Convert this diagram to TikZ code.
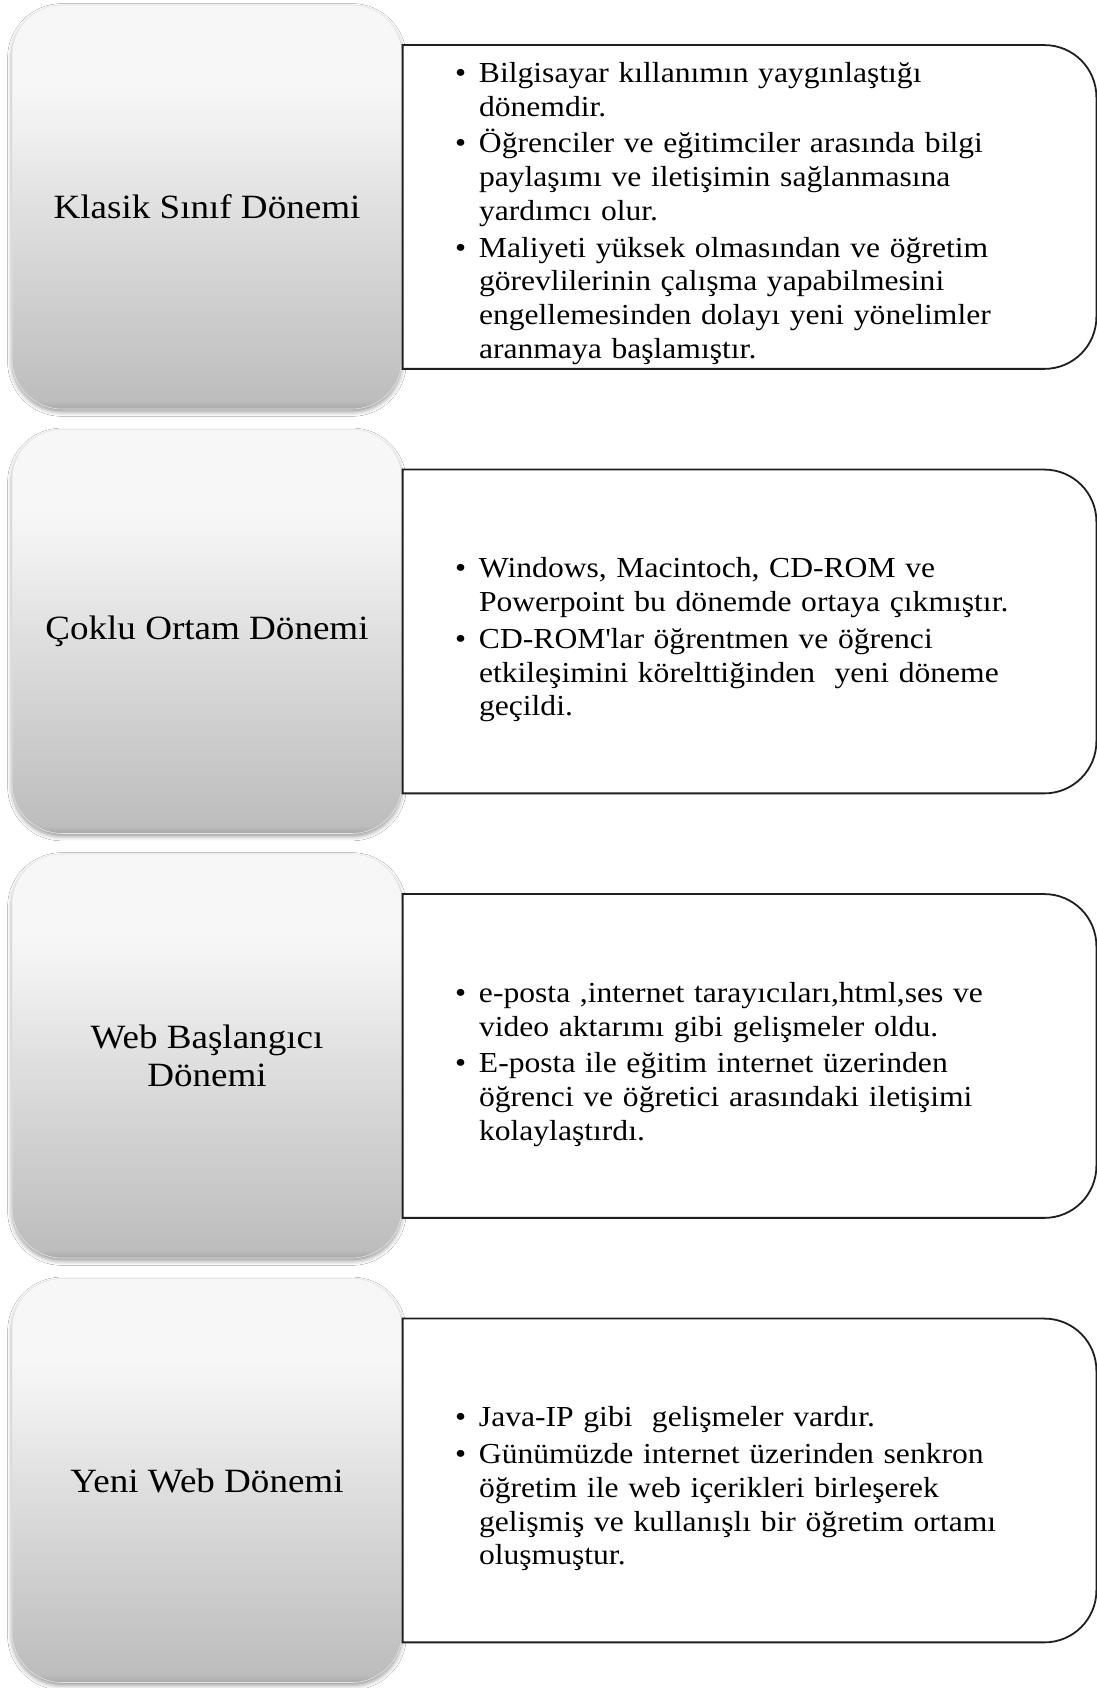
\documentclass[tikz,border=0pt]{standalone}
\usepackage{fontspec}
\setmainfont{Liberation Serif}[FakeStretch=1.09]
\usetikzlibrary{shadows.blur}

% grey tones of the period boxes, bottom to top
\definecolor{greyA}{HTML}{A9A9A9}
\definecolor{greyB}{HTML}{BDBDBD}
\definecolor{greyC}{HTML}{CACACA}
\definecolor{greyD}{HTML}{E0E0E0}
\definecolor{greyE}{HTML}{EFEFEF}
\definecolor{greyF}{HTML}{F7F7F7}
\pgfdeclareverticalshading{greybox}{100bp}{%
  color(0bp)=(greyA); color(25bp)=(greyA); color(26bp)=(greyB);
  color(35bp)=(greyC); color(50bp)=(greyD); color(59bp)=(greyE);
  color(65bp)=(greyF); color(100bp)=(greyF)}

% one bullet point with a hanging indent
\newcommand\bulletitem[1]{\par\hangindent=12pt\hangafter=1\noindent
  \makebox[12pt][l]{\textbullet}#1\par}

% outline of a detail box: square on the left, rounded on the right
\newcommand\detailoutline[1]{%
  \draw[detailline] (#1.north west) -- ([xshift=-26pt]#1.north east)
    arc[start angle=90, end angle=0, radius=26pt]
    -- ([yshift=26pt]#1.south east)
    arc[start angle=0, end angle=-90, radius=26pt]
    -- (#1.south west) -- cycle;}

\begin{document}
\begin{tikzpicture}[x=0.5pt, y=0.5pt,
  period/.style={rounded corners=25pt, minimum width=195pt, minimum height=202pt,
    shade, shading=greybox, draw=black!10, line width=0.3pt,
    blur shadow={shadow xshift=0pt, shadow yshift=-1.5pt, shadow blur radius=2.2pt,
      shadow opacity=40},
    font=\fontsize{17pt}{19.35pt}\selectfont, align=center, inner sep=0pt},
  detailframe/.style={minimum width=346.5pt, minimum height=161.5pt, inner sep=0pt},
  detailline/.style={line width=0.9pt, draw=black!88, fill=white},
  detailtext/.style={anchor=west, inner sep=0pt, text width=318pt, align=left,
    font=\fontsize{14.5pt}{16.85pt}\selectfont\setlength{\parskip}{1.6pt}},
]
\fill[white] (0,0) rectangle (1097,1688);
\useasboundingbox (0,0) rectangle (1097,1688);

% period boxes on the left
\node[period] (p1) at (207,1481)   {Klasik Sınıf Dönemi};
\node[period] (p2) at (207,1056.5) {Çoklu Ortam Dönemi};
\node[period] (p3) at (207,632)    {Web Başlangıcı\\Dönemi};
\node[period] (p4) at (207,207.5)  {Yeni Web Dönemi};

% detail boxes on the right
\node[detailframe] (r1) at (749.5,1481)   {};
\node[detailframe] (r2) at (749.5,1056.5) {};
\node[detailframe] (r3) at (749.5,632)    {};
\node[detailframe] (r4) at (749.5,207.5)  {};
\detailoutline{r1}
\detailoutline{r2}
\detailoutline{r3}
\detailoutline{r4}

\node[detailtext] (d1) at ([xshift=26pt,yshift=1pt]r1.west) {%
  \bulletitem{Bilgisayar kıllanımın yaygınlaştığı\newline dönemdir.}
  \bulletitem{Öğrenciler ve eğitimciler arasında bilgi\newline paylaşımı ve iletişimin sağlanmasına\newline yardımcı olur.}
  \bulletitem{Maliyeti yüksek olmasından ve öğretim\newline görevlilerinin çalışma yapabilmesini\newline engellemesinden dolayı yeni yönelimler\newline aranmaya başlamıştır.}};

\node[detailtext] (d2) at ([xshift=26pt]r2.west) {%
  \bulletitem{Windows, Macintoch, CD-ROM ve\newline Powerpoint bu dönemde ortaya çıkmıştır.}
  \bulletitem{CD-ROM\textquotesingle lar öğrentmen ve öğrenci\newline etkileşimini körelttiğinden\ \ yeni döneme\newline geçildi.}};

\node[detailtext] (d3) at ([xshift=26pt]r3.west) {%
  \bulletitem{e-posta ,internet tarayıcıları,html,ses ve\newline video aktarımı gibi gelişmeler oldu.}
  \bulletitem{E-posta ile eğitim internet üzerinden\newline öğrenci ve öğretici arasındaki iletişimi\newline kolaylaştırdı.}};

\node[detailtext] (d4) at ([xshift=26pt]r4.west) {%
  \bulletitem{Java-IP gibi\ \ gelişmeler vardır.}
  \bulletitem{Günümüzde internet üzerinden senkron\newline öğretim ile web içerikleri birleşerek\newline gelişmiş ve kullanışlı bir öğretim ortamı\newline oluşmuştur.}};
\end{tikzpicture}
\end{document}
